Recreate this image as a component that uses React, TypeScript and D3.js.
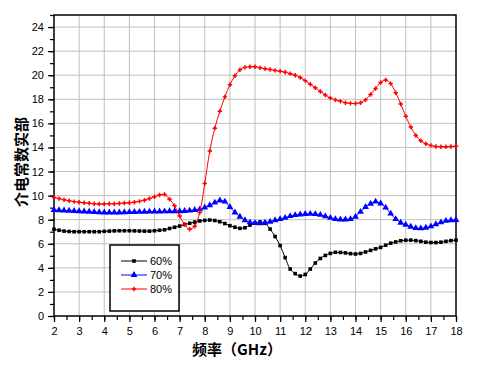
import * as d3 from "d3";
import React, { useRef, useEffect } from "react";

// 频率 (GHz)
const freqs = [
  2.0, 2.2, 2.4, 2.6, 2.8, 3.0, 3.2, 3.4, 3.6, 3.8, 4.0, 4.2, 4.4, 4.6, 4.8, 5.0, 5.2, 5.4, 5.6, 5.8,
  6.0, 6.2, 6.4, 6.6, 6.8, 7.0, 7.2, 7.4, 7.6, 7.8, 8.0, 8.2, 8.4, 8.6, 8.8, 9.0, 9.2, 9.4, 9.6, 9.8,
  10.0, 10.2, 10.4, 10.6, 10.8, 11.0, 11.2, 11.4, 11.6, 11.8, 12.0, 12.2, 12.4, 12.6, 12.8, 13.0, 13.2,
  13.4, 13.6, 13.8, 14.0, 14.2, 14.4, 14.6, 14.8, 15.0, 15.2, 15.4, 15.6, 15.8, 16.0, 16.2, 16.4, 16.6,
  16.8, 17.0, 17.2, 17.4, 17.6, 17.8, 18.0,
];

const s60 = [
  7.2, 7.12, 7.05, 7.02, 7.0, 7.0, 7.0, 7.0, 7.0, 7.0, 7.03, 7.05, 7.07, 7.08, 7.08, 7.08, 7.07, 7.06,
  7.05, 7.05, 7.08, 7.12, 7.16, 7.27, 7.37, 7.47, 7.6, 7.7, 7.8, 7.89, 7.94, 7.97, 7.93, 7.83, 7.68,
  7.5, 7.37, 7.28, 7.33, 7.55, 7.72, 7.8, 7.7, 7.22, 6.6, 5.85, 4.85, 3.9, 3.52, 3.32, 3.45, 3.9, 4.4,
  4.78, 5.03, 5.2, 5.29, 5.28, 5.24, 5.18, 5.15, 5.2, 5.32, 5.45, 5.58, 5.7, 5.88, 6.05, 6.15, 6.25,
  6.29, 6.3, 6.26, 6.2, 6.13, 6.1, 6.1, 6.13, 6.2, 6.26, 6.3,
];

const s70 = [
  8.8, 8.78, 8.76, 8.74, 8.72, 8.7, 8.68, 8.66, 8.64, 8.62, 8.6, 8.6, 8.6, 8.6, 8.62, 8.63, 8.64, 8.65,
  8.66, 8.67, 8.68, 8.68, 8.69, 8.7, 8.7, 8.7, 8.72, 8.75, 8.8, 8.86, 9.0, 9.2, 9.42, 9.6, 9.5, 9.05,
  8.6, 8.25, 7.95, 7.78, 7.72, 7.7, 7.75, 7.83, 7.95, 8.05, 8.15, 8.3, 8.38, 8.43, 8.47, 8.48, 8.46,
  8.4, 8.28, 8.15, 8.05, 8.02, 8.02, 8.05, 8.25, 8.65, 9.05, 9.33, 9.5, 9.35, 9.0, 8.5, 8.05, 7.75,
  7.58, 7.42, 7.3, 7.28, 7.33, 7.45, 7.62, 7.78, 7.9, 7.95, 7.98,
];

const s80 = [
  9.85, 9.75, 9.65, 9.57, 9.5, 9.45, 9.4, 9.36, 9.33, 9.3, 9.3, 9.32, 9.33, 9.35, 9.38, 9.4, 9.45, 9.52,
  9.62, 9.75, 9.9, 10.05, 10.1, 9.7, 9.15, 8.3, 7.6, 7.2, 7.45, 8.6, 11.0, 13.7, 15.6, 17.0, 18.2, 19.2,
  19.95, 20.45, 20.65, 20.7, 20.7, 20.62, 20.53, 20.48, 20.4, 20.32, 20.25, 20.13, 20.0, 19.8, 19.55,
  19.25, 18.95, 18.65, 18.35, 18.1, 17.95, 17.83, 17.72, 17.66, 17.65, 17.72, 17.95, 18.4, 18.9, 19.4,
  19.6, 19.3, 18.55, 17.6, 16.6, 15.7, 15.0, 14.55, 14.3, 14.17, 14.08, 14.05, 14.05, 14.07, 14.1,
];

const seriesNames = ["60%", "70%", "80%"];
const xTicks = [2, 3, 4, 5, 6, 7, 8, 9, 10, 11, 12, 13, 14, 15, 16, 17, 18];
const yTicks = [0, 2, 4, 6, 8, 10, 12, 14, 16, 18, 20, 22, 24];

const colors = ["#000000", "#0000ff", "#ff0000"];
const symbols = [d3.symbolSquare, d3.symbolTriangle, d3.symbolCross];
const symbolSizes = [13, 20, 11];

const W = 498;
const H = 368;

export default function App() {
  const svgRef = useRef<SVGSVGElement | null>(null);

  useEffect(() => {
    if (!svgRef.current) return;
    const root = d3.select(svgRef.current);
    root.selectAll("*").remove();

    const margin = { top: 15, right: 42, bottom: 52, left: 54 };
    const width = W - margin.left - margin.right;
    const height = H - margin.top - margin.bottom;

    const svg = root.append("g").attr("transform", `translate(${margin.left},${margin.top})`);

    const x = d3.scaleLinear().domain([2, 18]).range([0, width]);
    const y = d3.scaleLinear().domain([0, 25]).range([height, 0]);

    // グリッド
    svg
      .append("g")
      .selectAll("line.gx")
      .data(xTicks.slice(1, -1))
      .enter()
      .append("line")
      .attr("x1", (d) => x(d))
      .attr("x2", (d) => x(d))
      .attr("y1", 0)
      .attr("y2", height)
      .attr("stroke", "#c0c0c0")
      .attr("stroke-width", 1);
    svg
      .append("g")
      .selectAll("line.gy")
      .data(yTicks.slice(1))
      .enter()
      .append("line")
      .attr("x1", 0)
      .attr("x2", width)
      .attr("y1", (d) => y(d))
      .attr("y2", (d) => y(d))
      .attr("stroke", "#c0c0c0")
      .attr("stroke-width", 1);

    const tickFont = "'Liberation Sans', Arial, sans-serif";

    // x 軸
    const xAxis = svg.append("g").attr("transform", `translate(0,${height})`);
    xAxis
      .call(
        d3
          .axisBottom(x)
          .tickValues(d3.range(2, 18.01, 0.5))
          .tickSize(4)
          .tickFormat(() => "")
          .tickSizeOuter(0),
      )
      .select(".domain")
      .remove();
    xAxis
      .append("g")
      .call(d3.axisBottom(x).tickValues(xTicks).tickSize(6).tickPadding(5).tickSizeOuter(0))
      .call((g) => g.select(".domain").remove())
      .selectAll("text")
      .style("font-family", tickFont)
      .style("font-size", "11px")
      .attr("fill", "#000");
    xAxis.selectAll("line").attr("stroke-width", 1.2);

    // y 軸
    const yAxis = svg.append("g");
    yAxis
      .call(
        d3
          .axisLeft(y)
          .tickValues(d3.range(0, 25.01, 1))
          .tickSize(4)
          .tickFormat(() => "")
          .tickSizeOuter(0),
      )
      .select(".domain")
      .remove();
    yAxis
      .append("g")
      .call(d3.axisLeft(y).tickValues(yTicks).tickSize(6).tickPadding(4).tickSizeOuter(0))
      .call((g) => g.select(".domain").remove())
      .selectAll("text")
      .style("font-family", tickFont)
      .style("font-size", "11px")
      .attr("fill", "#000");
    yAxis.selectAll("line").attr("stroke-width", 1.2);

    // 枠
    svg
      .append("rect")
      .attr("x", 0)
      .attr("y", 0)
      .attr("width", width)
      .attr("height", height)
      .attr("fill", "none")
      .attr("stroke", "#000")
      .attr("stroke-width", 1.5);

    // 系列
    const allSeries = [s60, s70, s80];
    const line = d3
      .line<number>()
      .x((_, i) => x(freqs[i]))
      .y((d) => y(d))
      .curve(d3.curveCatmullRom);

    allSeries.forEach((vals, si) => {
      svg
        .append("path")
        .datum(vals)
        .attr("d", line)
        .attr("fill", "none")
        .attr("stroke", colors[si])
        .attr("stroke-width", 1);

      const sym = d3.symbol().type(symbols[si]).size(symbolSizes[si]);
      svg
        .append("g")
        .selectAll("path")
        .data(vals)
        .enter()
        .append("path")
        .attr("d", sym)
        .attr("transform", (d, i) => `translate(${x(freqs[i])},${y(d)})`)
        .attr("fill", colors[si]);
    });

    // 凡例
    const legend = svg.append("g").attr("transform", `translate(${110 - margin.left},${245 - margin.top})`);
    legend
      .append("rect")
      .attr("width", 69)
      .attr("height", 66)
      .attr("fill", "#fff")
      .attr("stroke", "#000")
      .attr("stroke-width", 1.5);
    seriesNames.forEach((name, i) => {
      const row = legend.append("g").attr("transform", `translate(0,${16 + i * 14})`);
      row
        .append("line")
        .attr("x1", 11)
        .attr("x2", 37)
        .attr("stroke", colors[i])
        .attr("stroke-width", 1);
      row
        .append("path")
        .attr("d", d3.symbol().type(symbols[i]).size(symbolSizes[i])())
        .attr("transform", "translate(24,0)")
        .attr("fill", colors[i]);
      row
        .append("text")
        .attr("x", 40)
        .attr("y", 4)
        .text(name)
        .style("font-family", tickFont)
        .style("font-size", "11px")
        .attr("fill", "#000");
    });

    // 軸タイトル
    const titleFont = "'Noto Sans CJK SC', sans-serif";
    root
      .append("text")
      .attr("x", 237)
      .attr("y", 355)
      .attr("text-anchor", "middle")
      .style("font-family", titleFont)
      .style("font-size", "15px")
      .style("font-weight", "bold")
      .text("频率（GHz）");
    root
      .append("text")
      .attr("transform", "translate(27,162) rotate(-90)")
      .attr("text-anchor", "middle")
      .style("font-family", titleFont)
      .style("font-size", "15px")
      .style("font-weight", "bold")
      .text("介电常数实部");
  }, []);

  return (
    <svg
      ref={svgRef}
      width={W}
      height={H}
      style={{ position: "absolute", left: 0, top: 0, background: "#fff" }}
    ></svg>
  );
}
